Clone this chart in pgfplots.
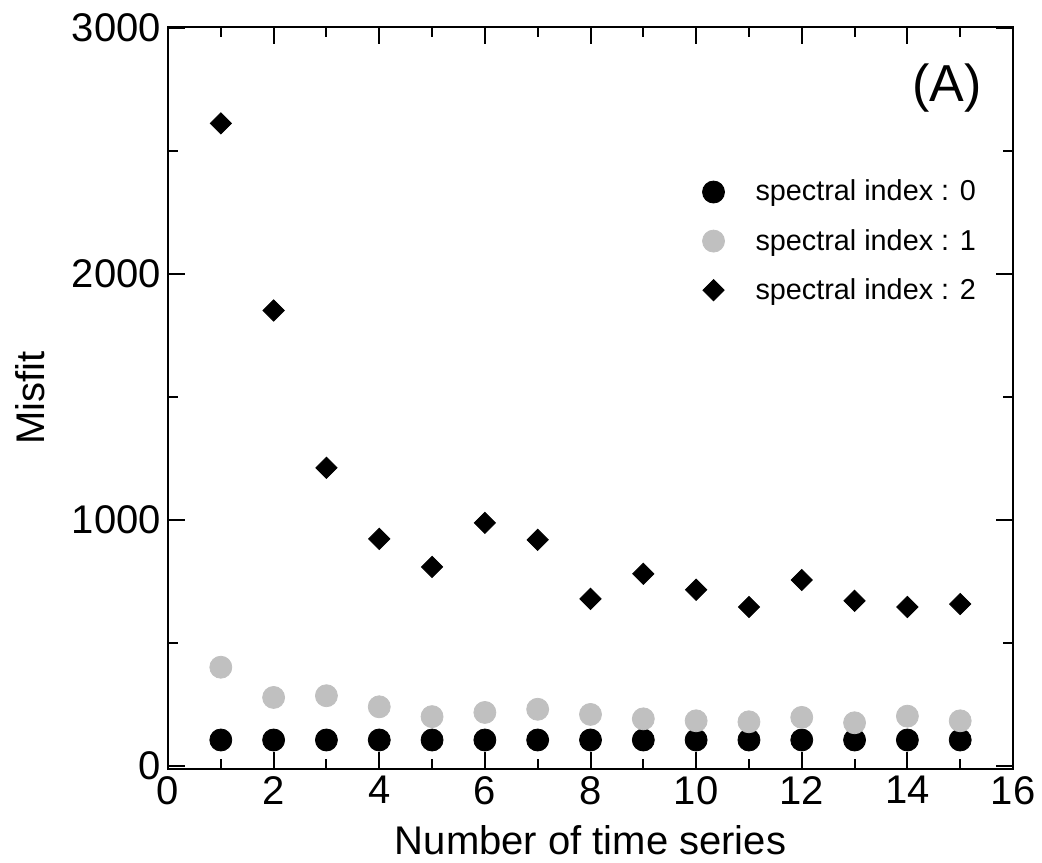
\documentclass[border=0pt]{standalone}
\usepackage{pgfplots}
\pgfplotsset{compat=1.18}
\usepackage{fontspec}
\setmainfont{Liberation Sans}
\definecolor{lightdot}{RGB}{192,192,192}

\begin{document}
\begin{tikzpicture}
\begin{axis}[
  scale only axis,
  width=422.5pt, height=371pt,
  xmin=0, xmax=16, ymin=-13, ymax=3005,
  xtick={0,2,...,16}, minor xtick={1,3,...,15},
  ytick={0,1000,2000,3000}, minor ytick={500,1500,2500},
  tick align=inside,
  major tick length=8.5pt, minor tick length=5pt,
  every tick/.style={black, line width=1pt},
  axis line style={line width=1pt},
  tick label style={font=\fontsize{20}{24}\selectfont},
  /pgf/number format/assume math mode=true,
  /pgf/number format/1000 sep={},
  xlabel={Number of time series},
  ylabel={Misfit},
  label style={font=\fontsize{20}{24}\selectfont},
  xlabel style={at={(axis description cs:0.5,-0.066)}, anchor=north},
  ylabel style={at={(axis description cs:-0.137,0.5)}, anchor=south},
  legend cell align=left,
  legend style={draw=none, fill=none, at={(axis description cs:0.625,0.805)},
    anchor=north west, font=\fontsize{14.4}{17}\selectfont, row sep=8.6pt,
    /tikz/every odd column/.append style={column sep=13.5pt}},
  clip=false,
]
% spectral index 0
\addplot[only marks, mark=*, mark size=5.5pt, black] coordinates {
 (1,105) (2,105) (3,105) (4,105) (5,105) (6,105) (7,105) (8,105)
 (9,105) (10,105) (11,105) (12,105) (13,105) (14,105) (15,105)};
\addlegendentry{spectral index : 0}
% spectral index 1
\addplot[only marks, mark=*, mark size=5.5pt, lightdot] coordinates {
 (1,401) (2,278) (3,285) (4,240) (5,200) (6,217) (7,230) (8,209)
 (9,191) (10,183) (11,179) (12,197) (13,175) (14,202) (15,183)};
\addlegendentry{spectral index : 1}
% spectral index 2
\addplot[only marks, mark=square*, mark size=3.75pt, black, mark options={rotate=45}] coordinates {
 (1,2613) (2,1852) (3,1212) (4,923) (5,809) (6,988) (7,919) (8,679)
 (9,781) (10,716) (11,646) (12,756) (13,671) (14,646) (15,658)};
\addlegendentry{spectral index : 2}
\node[font=\fontsize{26}{30}\selectfont] at (axis cs:14.75,2755) {(A)};
\coordinate (O) at (rel axis cs:0,0);
\end{axis}
\pgfresetboundingbox
\path[use as bounding box] (O) ++(-84pt,-46.5pt) rectangle ++(521pt,431pt);
\end{tikzpicture}
\end{document}
